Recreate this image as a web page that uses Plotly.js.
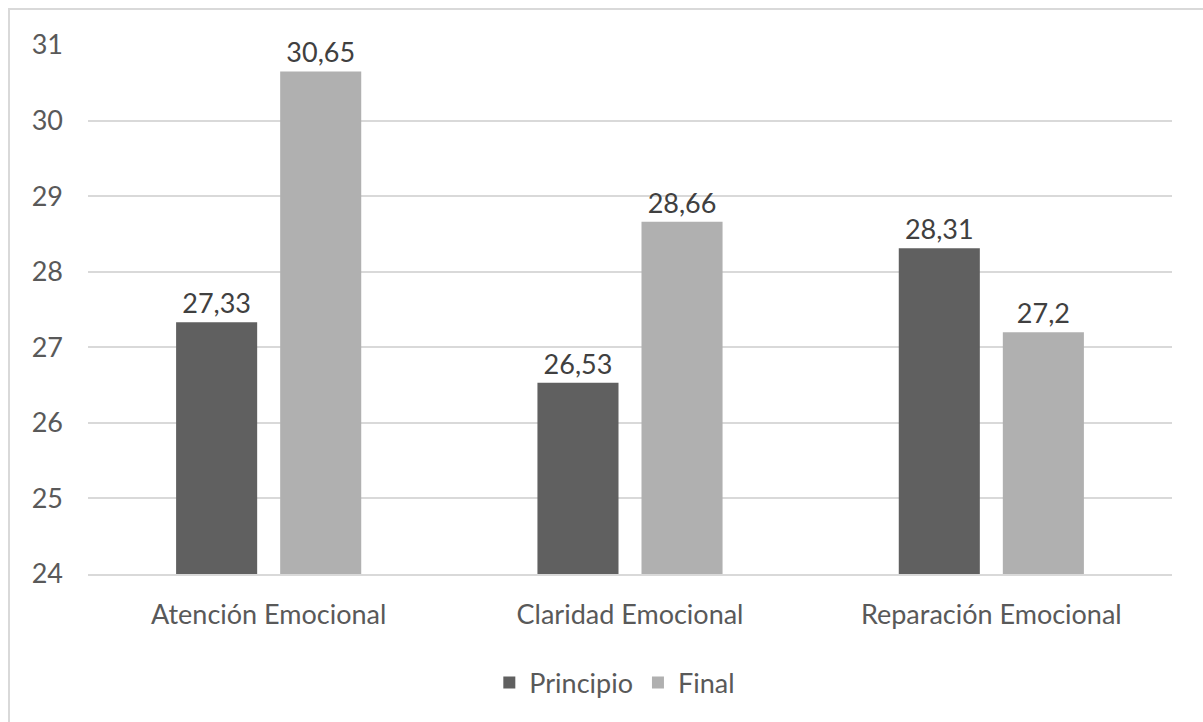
<!DOCTYPE html>
<html><head><meta charset="utf-8">
<script src="https://cdn.plot.ly/plotly-3.0.1.min.js"></script>
<style>
html,body{margin:0;padding:0;background:#fff;}
#frame{position:absolute;left:8px;top:8px;width:1200px;height:720px;border:2px solid #d9d9d9;box-sizing:border-box;}
#chart{position:absolute;left:0;top:0;width:1203px;height:722px;}
</style></head>
<body>
<div id="frame"></div>
<div id="chart"></div>
<script>
const categories = ["Atención Emocional", "Claridad Emocional", "Reparación Emocional"];
const principio = [27.33, 26.53, 28.31];
const finalVals = [30.65, 28.66, 27.2];
const principioLabels = ["27,33", "26,53", "28,31"];
const finalLabels = ["30,65", "28,66", "27,2"];
const yTicks = [24, 25, 26, 27, 28, 29, 30, 31];

const font = "Lato, 'Open Sans', sans-serif";
const fs = 27;
const traces = [
  {type:'bar', name:'Principio', x:categories, y:principio, marker:{color:'#606060'},
   text:principioLabels, textposition:'outside', cliponaxis:false,
   textfont:{family:font, size:fs, color:'#404040'}, hoverinfo:'none'},
  {type:'bar', name:'Final', x:categories, y:finalVals, marker:{color:'#b0b0b0'},
   text:finalLabels, textposition:'outside', cliponaxis:false,
   textfont:{family:font, size:fs, color:'#404040'}, hoverinfo:'none'}
];
const layout = {
  width:1203, height:722,
  paper_bgcolor:'rgba(0,0,0,0)', plot_bgcolor:'rgba(0,0,0,0)',
  margin:{l:88, r:31, t:45, b:148},
  barmode:'group', bargap:0.424, bargroupgap:0.221,
  font:{family:font, size:fs, color:'#595959'},
  yaxis:{range:[24,31], tickvals:yTicks, ticktext:yTicks.map(String), showgrid:true, gridcolor:'#d9d9d9', gridwidth:2,
         zeroline:false, showline:false, ticks:'', ticklabelstandoff:24, tickfont:{family:font,size:fs,color:'#595959'}},
  xaxis:{showline:true, linecolor:'#d9d9d9', linewidth:2, ticks:'', ticklabelstandoff:16,
         tickfont:{family:font,size:fs,color:'#595959'}},
  showlegend:true,
  legend:{orientation:'h', x:0.486, xanchor:'center', y:-0.206, yanchor:'middle',
          font:{family:font,size:fs,color:'#595959'}, itemwidth:30, traceorder:'normal'}
};
Plotly.newPlot('chart', traces, layout, {displayModeBar:false, staticPlot:true});
</script>
</body></html>
